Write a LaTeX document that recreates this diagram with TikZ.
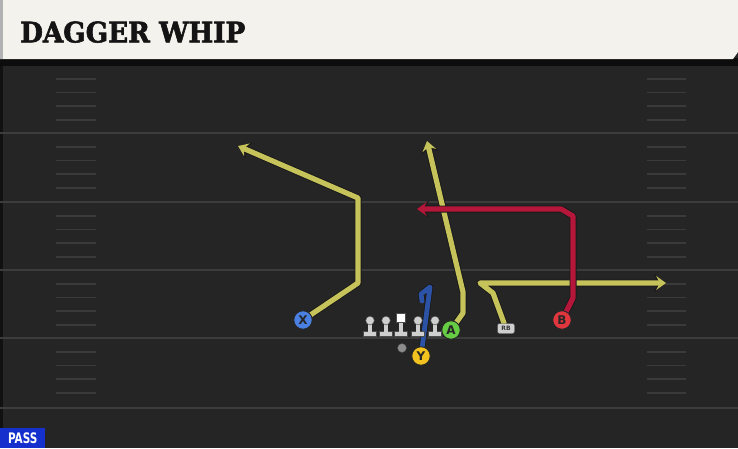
\documentclass[tikz,border=0pt]{standalone}
\usepackage{graphicx}
\usepackage{fontspec}
\setmainfont{DejaVu Sans}
\newfontfamily\titlefont{DejaVu Serif Condensed}[BoldFeatures={FakeBold=2}]
\newfontfamily\labfont{DejaVu Sans}
\usetikzlibrary{arrows.meta}
\definecolor{fieldbg}{HTML}{252525}
\definecolor{yardline}{HTML}{3C3C3C}
\definecolor{hashc}{HTML}{3A3A3A}
\definecolor{headbg}{HTML}{F4F2EC}
\definecolor{routey}{HTML}{C6C35A}
\definecolor{router}{HTML}{B5173A}
\definecolor{routeb}{HTML}{2C52A6}
\definecolor{px}{HTML}{4A80E2}
\definecolor{pa}{HTML}{66CC44}
\definecolor{py}{HTML}{F2C21E}
\definecolor{pb}{HTML}{E0363E}
\definecolor{passblue}{HTML}{1530CC}
\definecolor{olc}{HTML}{CFCFCF}
\pgfdeclarelayer{field}
\pgfdeclarelayer{routes}
\pgfsetlayers{field,routes,main}
\tikzset{
  route/.style={line width=5.2pt, line join=round, line cap=round,
    preaction={draw=black!90, line width=7pt, line join=round,
      -{Stealth[length=3pt 1.3, width=4pt 1.9, inset=1pt 0.5]}},
    -{Stealth[length=3pt 1.3, width=4pt 1.9, inset=1pt 0.5]}},
  plain route/.style={line width=4.8pt, line join=round, line cap=round,
    preaction={draw=black!90, line width=6.4pt, line join=round}},
  player/.style={circle, minimum size=18.5pt, inner sep=0pt, draw=black!85,
    line width=0.9pt, font=\labfont\bfseries\fontsize{12}{12}\selectfont, text=black!85},
  yard/.style={draw=yardline, line width=2pt},
  hash/.style={draw=hashc, line width=1.4pt},
  pics/lineman/.style={code={
    \fill[olc, draw=black!70, line width=0.4pt] (-6.5,331.5) rectangle (6.5,336.5);
    \fill[olc] (-2.3,322) rectangle (2.3,333);
    \fill[olc, draw=black!70, line width=0.4pt] (0,320.5) circle (4.3);
  }},
  pics/center/.style={code={
    \fill[olc, draw=black!70, line width=0.4pt] (-6.5,331.5) rectangle (6.5,336.5);
    \fill[olc] (-2.3,321) rectangle (2.3,333);
    \fill[white, draw=black!70, line width=0.4pt] (-4.5,313) rectangle (4.5,322);
  }}
}
\begin{document}
\begin{tikzpicture}[x=1pt,y=-1pt]
\useasboundingbox (0,0) rectangle (738,448);
\begin{pgfonlayer}{field}
  \fill[fieldbg] (0,0) rectangle (738,448);
  \fill[black!55!fieldbg] (0,0) rectangle (3,448);
  % yard lines
  \foreach \y in {65,133,202,270,338,408}
    \draw[yard] (0,\y) -- (738,\y);
  % hash marks
  \foreach \b in {65,133,202,270,338}{
    \foreach \o in {14,27.5,41,55}{
      \draw[hash] (56,\b+\o) -- (96,\b+\o);
      \draw[hash] (647,\b+\o) -- (686,\b+\o);
    }}
  % header
  \fill[black!95] (0,58) rectangle (738,66);
  \fill[headbg] (0,0) -- (738,0) -- (738,52) -- (733,59) -- (0,59) -- cycle;
  \fill[black!30] (0,0) rectangle (3,59);
\end{pgfonlayer}
\node[anchor=south west, inner sep=0pt, text=black!92] (title) at (20,43)
  {\resizebox{225pt}{21pt}{\titlefont\bfseries DAGGER WHIP}};
% players
\node[player, fill=px] (X) at (303,320) {X};
\node[player, fill=pa] (A) at (451,330) {A};
\node[player, fill=py] (Y) at (421,356) {Y};
\node[player, fill=pb] (B) at (562,320) {B};
\node[draw=black!70, fill=olc, rounded corners=2pt, minimum width=17pt, minimum height=10pt,
  inner sep=0pt, font=\labfont\bfseries\fontsize{6}{6}\selectfont, text=black!80] (RB) at (506,328.5) {RB};
\node[circle, fill=black!45, draw=black!70, line width=0.4pt, minimum size=9pt, inner sep=0pt] (ball) at (402,348) {};
\pic at (370,0) {lineman};
\pic at (386,0) {lineman};
\pic at (401,0) {center};
\pic at (418,0) {lineman};
\pic at (435,0) {lineman};
% route waypoints
\coordinate (x1) at (358,283);
\coordinate (x2) at (358,198);
\coordinate (xe) at (238,146);
\coordinate (a1) at (463,313);
\coordinate (a2) at (463,292);
\coordinate (ae) at (427,141);
\coordinate (r1) at (493,293);
\coordinate (r2) at (480,283);
\coordinate (re) at (666,283);
\coordinate (b1) at (573,298);
\coordinate (b2) at (573,216);
\coordinate (b3) at (561,209);
\coordinate (be) at (417,209);
\coordinate (y1) at (430,287);
\coordinate (y2) at (421,294);
\coordinate (ye) at (422,301);
\begin{pgfonlayer}{routes}
  \draw[route, routey] (X) -- (x1) -- (x2) -- (xe);
  \draw[route, routey] (A) -- (a1) -- (a2) -- (ae);
  \draw[route, routey] (RB) -- (r1) -- (r2) -- (re);
  \draw[route, router] (B) -- (b1) -- (b2) -- (b3) -- (be);
  \draw[plain route, routeb] (Y) -- (y1) -- (y2) -- (ye);
\end{pgfonlayer}
% pass label
\node[anchor=south west, fill=passblue, text=white, inner sep=0pt, minimum width=45pt,
  minimum height=20pt, font=\labfont\bfseries\fontsize{14.5}{14.5}\selectfont] (pass) at (0,448) {\scalebox{0.72}[1]{PASS}};
\end{tikzpicture}
\end{document}
